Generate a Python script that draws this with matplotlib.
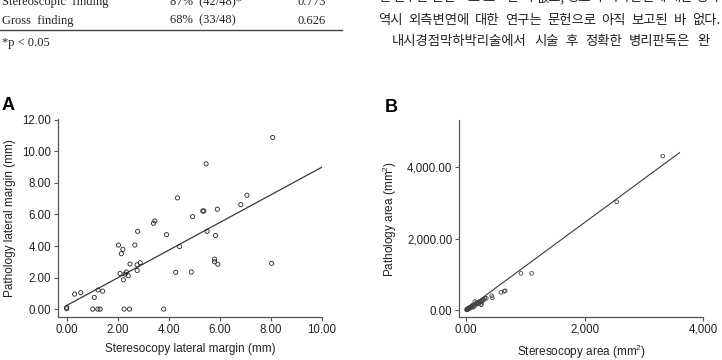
import numpy as np
import matplotlib
matplotlib.use('Agg')
import matplotlib.pyplot as plt

plt.rcParams['font.family'] = ['Liberation Sans', 'DejaVu Sans']
plt.rcParams['mathtext.fontset'] = 'custom'
plt.rcParams['mathtext.rm'] = 'Liberation Sans'
plt.rcParams['mathtext.it'] = 'Liberation Sans'

# panel A: lateral margin (mm)
stereo_margin = [0.0, 0.0, 0.31, 0.55, 1.08, 1.02, 1.23, 1.41, 1.22, 1.31,
                 2.03, 2.20, 2.14, 2.09, 2.29, 2.22, 2.34, 2.41, 2.48, 2.67,
                 2.78, 2.76, 2.76, 2.88, 2.25, 2.46, 3.40, 3.45, 3.91, 4.34,
                 4.42, 4.27, 3.80, 4.88, 4.93, 5.33, 5.37, 5.46, 5.50, 5.83,
                 5.90, 5.79, 5.79, 5.92, 6.82, 7.06, 8.07, 8.03]
path_margin = [0.10, 0.02, 0.95, 1.04, 0.74, 0.0, 1.21, 1.14, 0.0, 0.0,
               4.06, 3.79, 3.51, 2.26, 2.22, 1.86, 2.35, 2.12, 2.86, 4.06,
               4.93, 2.81, 2.45, 2.94, 0.0, 0.0, 5.44, 5.59, 4.72, 7.05,
               3.96, 2.33, 0.0, 2.35, 5.86, 6.22, 6.22, 9.21, 4.93, 4.66,
               6.33, 3.17, 3.00, 2.84, 6.62, 7.22, 10.88, 2.90]
fit_a = (0.23, 0.877)  # intercept, slope
fit_a_range = [0.0, 10.0]

# panel B: area (mm^2)
stereo_area = [3317, 2539, 927, 1107, 645, 661, 590, 433, 443, 344,
               261, 289, 150, 233, 122, 94, 39, 22, 67, 10,
               20, 25, 35, 45, 55, 60, 80, 100, 110, 130,
               160, 170, 190, 210, 230, 250, 270, 300, 320, 140,
               50, 75, 120, 180, 200, 260, 15, 30]
path_area = [4318, 3037, 1029, 1029, 525, 540, 496, 401, 345, 327,
             252, 280, 234, 206, 140, 93, 37, 9, 56, 5,
             30, 15, 45, 40, 70, 55, 90, 120, 95, 150,
             130, 180, 220, 190, 240, 160, 230, 290, 330, 110,
             35, 60, 75, 200, 170, 150, 20, 25]
fit_b = (5.0, 1.225)
fit_b_range = [0.0, 3600.0]

# body text of the page around the figure
kr_line1 = '한 연구는 문헌으로 보고된 바 없고, 병소의 외측변연에 대한 평가'
kr_line2 = '역시 외측변연에 대한 연구는 문헌으로 아직 보고된 바 없다.'
kr_line3 = '내시경점막하박리술에서 시술 후 정확한 병리판독은 완'

line_col = '#3a3a3a'
text_col = '#222222'

fig = plt.figure(figsize=(7.22, 3.6), dpi=100)
W, H = 722, 360

# table tail above panel A
serif = ['Liberation Serif', 'DejaVu Serif']
fig.text(2 / W, 0.986, 'Stereoscopic  finding', family=serif, fontsize=9, color=text_col)
fig.text(170 / W, 0.986, '87%  (42/48)*', family=serif, fontsize=9, color=text_col)
fig.text(297 / W, 0.986, '0.773', family=serif, fontsize=9, color=text_col)
fig.text(2 / W, 0.934, 'Gross  finding', family=serif, fontsize=9, color=text_col)
fig.text(170 / W, 0.934, '68%  (33/48)', family=serif, fontsize=9, color=text_col)
fig.text(297 / W, 0.934, '0.626', family=serif, fontsize=9, color=text_col)
fig.add_artist(plt.Line2D([0, 342 / W], [1 - 30 / H] * 2, color='#444444', lw=1.0))
fig.text(2 / W, 0.872, '*p < 0.05', family=serif, fontsize=9, color=text_col)

kr = ['Noto Sans CJK KR', 'DejaVu Sans']
kr_size = 9.6


def justified(line, x0, x1, y):
    # spread the words of a line between x0 and x1 (pixels), like justified print
    words = line.split(' ')
    texts = [fig.text(0, y, w, family=kr, fontsize=kr_size, color=text_col) for w in words]
    r = fig.canvas.get_renderer()
    widths = [t.get_window_extent(renderer=r).width for t in texts]
    gap = (x1 - x0 - sum(widths)) / max(len(words) - 1, 1)
    x = x0
    for t, w in zip(texts, widths):
        t.set_x(x / W)
        x += w + gap


justified(kr_line1, 378, 720, 0.996)
justified(kr_line2, 378, 720, 0.933)
justified(kr_line3, 392, 710, 0.876)

fig.text(2 / W, 1 - 110 / H, 'A', fontsize=13, fontweight='bold', color='black')
fig.text(385 / W, 1 - 112 / H, 'B', fontsize=13, fontweight='bold', color='black')


def style_axes(ax):
    for s in ['top', 'right']:
        ax.spines[s].set_visible(False)
    for s in ['left', 'bottom']:
        ax.spines[s].set_color('#555555')
        ax.spines[s].set_linewidth(0.9)
    ax.tick_params(direction='out', length=3, width=0.8, color='#555555',
                   labelsize=8.3, labelcolor=text_col, pad=2)


# panel A
ax1 = fig.add_axes([58 / W, 43 / H, 264 / W, 198 / H])
ax1.scatter(stereo_margin, path_margin, s=9, facecolors='none',
            edgecolors='#222222', linewidths=0.6, zorder=3)
xa = np.array(fit_a_range)
ax1.plot(xa, fit_a[0] + fit_a[1] * xa, color=line_col, lw=0.9)
ax1.set_xlim(-0.34, 10.0)
ax1.set_ylim(-0.5, 12.05)
ax1.set_xticks([0, 2, 4, 6, 8, 10])
ax1.set_yticks([0, 2, 4, 6, 8, 10, 12])
ax1.set_xticklabels(['%.2f' % v for v in [0, 2, 4, 6, 8, 10]])
ax1.set_yticklabels(['%.2f' % v for v in [0, 2, 4, 6, 8, 10, 12]])
ax1.set_xlabel('Steresocopy lateral margin (mm)', fontsize=8.5, color=text_col, labelpad=5)
ax1.set_ylabel('Pathology lateral margin (mm)', fontsize=8.5, color=text_col, labelpad=4)
style_axes(ax1)

# panel B
ax2 = fig.add_axes([459.3 / W, 43 / H, 244 / W, 197 / H])
ax2.scatter(stereo_area, path_area, s=7, facecolors='none',
            edgecolors='#444444', linewidths=0.6, zorder=3)
xb = np.array(fit_b_range)
ax2.plot(xb, fit_b[0] + fit_b[1] * xb, color=line_col, lw=0.8)
ax2.set_xlim(-112, 4000)
ax2.set_ylim(-196, 5330)
ax2.set_xticks([0, 2000, 4000])
ax2.set_xticklabels(['0.00', '2,000', '4,000'])
ax2.set_yticks([0, 2000, 4000])
ax2.set_yticklabels(['0.00', '2,000.00', '4,000.00'])
ax2.set_xlabel(r'Steresocopy area (mm$^{2}$)', fontsize=8.5, color=text_col, labelpad=5)
ax2.set_ylabel(r'Pathology area (mm$^{2}$)', fontsize=8.5, color=text_col, labelpad=6)
style_axes(ax2)

fig.savefig('out.png', dpi=100)
